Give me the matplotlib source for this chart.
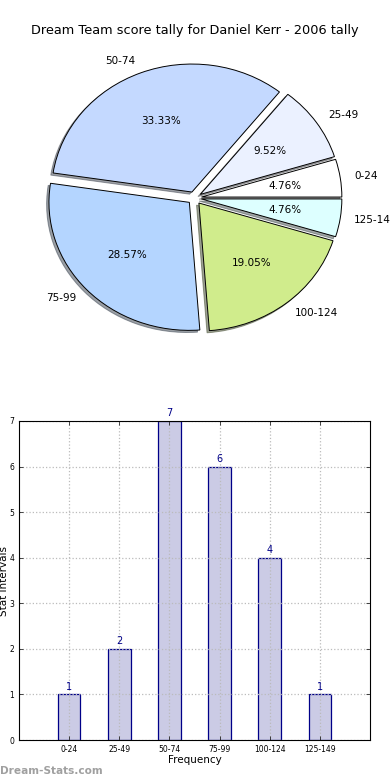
import matplotlib
matplotlib.use('Agg')
import matplotlib.pyplot as plt

# scores for Daniel Kerr, 2006
intervals = ['0-24', '25-49', '50-74', '75-99', '100-124', '125-149']
counts = [1, 2, 7, 6, 4, 1]
slice_colors = ['#ffffff', '#ebf1ff', '#c4d9ff', '#b4d5ff', '#d0ec8c', '#ddffff']
title = 'Dream Team score tally for Daniel Kerr - 2006 tally'

fig = plt.figure(figsize=(3.9, 7.8), dpi=100)

# pie on top (not equal aspect, like the old chart)
ax1 = fig.add_axes([19 / 390, 1 - 358 / 780, 351 / 390, 320 / 780])
wedges, texts, autotexts = ax1.pie(counts, labels=intervals, colors=slice_colors,
                                   explode=[0.05] * len(counts),
                                   shadow={'ox': -0.012, 'oy': -0.012},
                                   autopct='%1.2f%%', startangle=0,
                                   wedgeprops={'edgecolor': 'black', 'linewidth': 0.7},
                                   textprops={'fontsize': 7.5})
ax1.set_aspect('auto')
ax1.set_xlim(-1.25, 1.25)
ax1.set_ylim(-1.25, 1.25)
ax1.set_title(title, fontsize=9.3, pad=3)

# bar chart below
ax2 = fig.add_axes([19 / 390, 1 - 740 / 780, 351 / 390, 319 / 780])
xs = list(range(len(intervals)))
bars = ax2.bar(xs, counts, width=0.45, color='#cbcbe5', edgecolor='#000088',
               linewidth=0.9, zorder=1)
for x, c in zip(xs, counts):
    ax2.text(x, c + 0.06, str(c), ha='center', va='bottom', color='#000088', fontsize=7)
ax2.set_xlim(-1, 6)
ax2.set_ylim(0, 7)
ax2.set_xticks(xs)
ax2.set_xticklabels(intervals)
ax2.set_yticks(range(8))
ax2.tick_params(direction='in', top=True, right=True, labelsize=5.5, length=3, width=0.5)
# grid above the bars but under the frame
ax2.grid(True, linestyle=':', color='#bbbbbb', linewidth=0.9, zorder=2)
ax2.set_axisbelow(False)
for sp in ax2.spines.values():
    sp.set_zorder(4)
ax2.set_xlabel('Frequency', fontsize=7.5, labelpad=1)
ax2.set_ylabel('Stat Intervals', fontsize=7.5, labelpad=0)

fig.text(0.0, 1 - 771 / 780, 'Dream-Stats.com', color='#a0a0a0', fontsize=7.6,
         fontweight='bold', ha='left', va='center')

fig.savefig('out.png', dpi=100)
